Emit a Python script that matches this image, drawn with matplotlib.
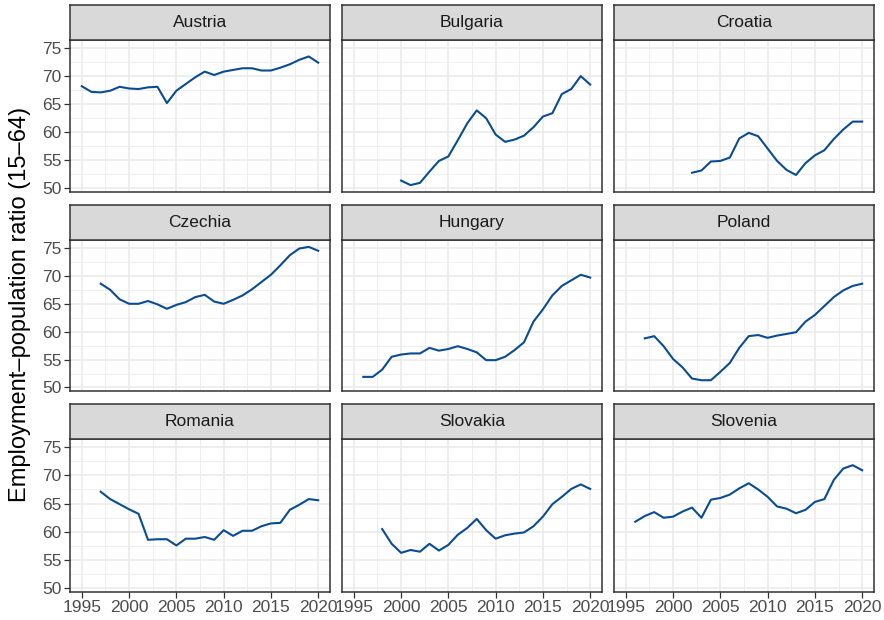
import numpy as np
import matplotlib.pyplot as plt
from matplotlib.ticker import MultipleLocator

plt.rcParams['font.family'] = ['Liberation Sans', 'DejaVu Sans']

# Employment-population ratio (15-64), per country: first year + yearly values
countries = ["Austria", "Bulgaria", "Croatia",
             "Czechia", "Hungary", "Poland",
             "Romania", "Slovakia", "Slovenia"]

austria_start = 1995
austria = [68.2, 67.2, 67.1, 67.4, 68.1, 67.8, 67.7, 68.0, 68.1, 65.2,
           67.4, 68.6, 69.8, 70.8, 70.2, 70.8, 71.1, 71.4, 71.4, 71.0,
           71.0, 71.5, 72.1, 72.9, 73.5, 72.4]

bulgaria_start = 2000
bulgaria = [51.4, 50.6, 51.0, 53.0, 54.9, 55.7, 58.6, 61.6, 63.9, 62.5,
            59.6, 58.3, 58.7, 59.4, 60.9, 62.8, 63.4, 66.8, 67.7, 70.0, 68.5]

croatia_start = 2002
croatia = [52.8, 53.2, 54.8, 54.9, 55.5, 58.9, 59.9, 59.3, 57.1, 54.9,
           53.3, 52.4, 54.5, 55.9, 56.8, 58.8, 60.5, 61.9, 61.9]

czechia_start = 1997
czechia = [68.6, 67.5, 65.8, 65.0, 65.0, 65.5, 64.9, 64.1, 64.8, 65.3,
           66.2, 66.6, 65.4, 65.0, 65.7, 66.5, 67.6, 68.9, 70.2, 71.9,
           73.7, 74.9, 75.2, 74.5]

hungary_start = 1996
hungary = [51.9, 51.9, 53.2, 55.5, 55.9, 56.1, 56.1, 57.1, 56.6, 56.9,
           57.4, 56.9, 56.3, 54.9, 54.9, 55.5, 56.7, 58.1, 61.8, 64.0,
           66.5, 68.2, 69.2, 70.2, 69.7]

poland_start = 1997
poland = [58.8, 59.2, 57.4, 55.1, 53.6, 51.6, 51.3, 51.3, 52.8, 54.4,
          57.1, 59.2, 59.4, 58.9, 59.3, 59.6, 59.9, 61.8, 63.0, 64.6,
          66.2, 67.4, 68.2, 68.6]

romania_start = 1997
romania = [67.1, 65.8, 64.9, 64.0, 63.2, 58.6, 58.7, 58.7, 57.6, 58.8,
           58.8, 59.1, 58.6, 60.3, 59.3, 60.2, 60.2, 61.0, 61.5, 61.6,
           63.9, 64.8, 65.8, 65.6]

slovakia_start = 1998
slovakia = [60.5, 57.9, 56.3, 56.8, 56.5, 57.9, 56.7, 57.7, 59.5, 60.7,
            62.3, 60.3, 58.8, 59.4, 59.7, 59.9, 61.0, 62.7, 64.9, 66.2,
            67.6, 68.4, 67.6]

slovenia_start = 1996
slovenia = [61.8, 62.8, 63.5, 62.5, 62.7, 63.6, 64.3, 62.5, 65.7, 66.0,
            66.6, 67.7, 68.6, 67.5, 66.2, 64.5, 64.1, 63.3, 63.9, 65.3,
            65.8, 69.2, 71.2, 71.8, 70.9]

series = {
    "Austria": (austria_start, austria),
    "Bulgaria": (bulgaria_start, bulgaria),
    "Croatia": (croatia_start, croatia),
    "Czechia": (czechia_start, czechia),
    "Hungary": (hungary_start, hungary),
    "Poland": (poland_start, poland),
    "Romania": (romania_start, romania),
    "Slovakia": (slovakia_start, slovakia),
    "Slovenia": (slovenia_start, slovenia),
}

x_ticks = [1995, 2000, 2005, 2010, 2015, 2020]
y_ticks = [50, 55, 60, 65, 70, 75]

# shared scales, ggplot-like 5% expansion
all_x = np.concatenate([np.arange(s, s + len(v)) for s, v in series.values()])
all_y = np.concatenate([np.array(v) for s, v in series.values()])
xpad = 0.05 * (all_x.max() - all_x.min())
ypad = 0.05 * (all_y.max() - all_y.min())
xlim = (all_x.min() - xpad, all_x.max() + xpad)
ylim = (all_y.min() - ypad, all_y.max() + ypad)

W, H = 884, 620
fig = plt.figure(figsize=(W / 100, H / 100), dpi=100)

col_left = [70, 342, 614]
col_w = 260
row_top = [40, 240, 439]
row_bot = [192, 391, 592]
strip_h = 35

line_col = "#0a4c92"
dark = "#333333"

for i, name in enumerate(countries):
    r, c = divmod(i, 3)
    x0 = col_left[c]
    top, bot = row_top[r], row_bot[r]
    ax = fig.add_axes([x0 / W, 1 - bot / H, col_w / W, (bot - top) / H])
    start, vals = series[name]
    years = np.arange(start, start + len(vals))
    ax.plot(years, vals, color=line_col, lw=1.5, zorder=3)

    ax.set_xlim(xlim)
    ax.set_ylim(ylim)
    ax.set_xticks(x_ticks)
    ax.set_yticks(y_ticks)
    ax.xaxis.set_minor_locator(MultipleLocator(2.5))
    ax.yaxis.set_minor_locator(MultipleLocator(2.5))
    ax.grid(which="major", color="#ebebeb", lw=1.2, zorder=0)
    ax.grid(which="minor", color="#ebebeb", lw=0.6, zorder=0)
    ax.tick_params(which="minor", length=0)
    ax.tick_params(which="major", length=4, width=0.9, color=dark,
                   labelsize=12.5, labelcolor="#4d4d4d", pad=2)
    if c != 0:
        ax.tick_params(axis="y", length=0, labelleft=False)
    if r != 2:
        ax.tick_params(axis="x", length=0, labelbottom=False)
    for sp in ax.spines.values():
        sp.set_color(dark)
        sp.set_linewidth(1.1)

    sax = fig.add_axes([x0 / W, 1 - top / H, col_w / W, strip_h / H])
    sax.set_facecolor("#d9d9d9")
    sax.set_xticks([])
    sax.set_yticks([])
    for sp in sax.spines.values():
        sp.set_color(dark)
        sp.set_linewidth(1.1)
    sax.text(0.5, 0.5, name, ha="center", va="center", fontsize=12.5,
             color="#1a1a1a", transform=sax.transAxes)

fig.text(20 / W, 1 - 304 / H, "Employment\u2013population ratio (15\u201364)",
         rotation=90, ha="center", va="center", fontsize=17, color="black")

fig.savefig("out.png", dpi=100)
